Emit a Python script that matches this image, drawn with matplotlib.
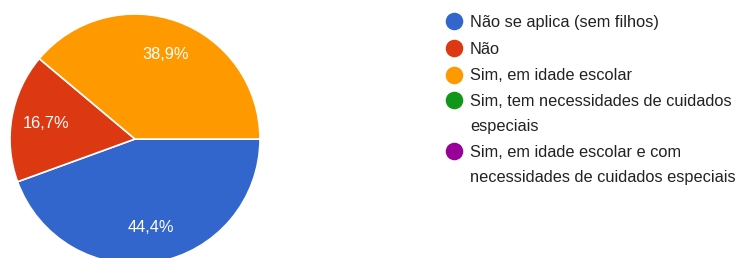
import matplotlib
matplotlib.use("Agg")
import matplotlib.pyplot as plt

categories = ["Não se aplica (sem filhos)", "Não", "Sim, em idade escolar",
              "Sim, tem necessidades de cuidados\nespeciais",
              "Sim, em idade escolar e com\nnecessidades de cuidados especiais"]
counts = [8, 3, 7, 0, 0]
colors = ["#3366cc", "#dc3912", "#ff9900", "#109618", "#990099"]

plt.rcParams['font.family'] = ['Liberation Sans', 'DejaVu Sans']

W, H = 743, 258
fig = plt.figure(figsize=(W / 100, H / 100), dpi=100)

cx, cy, r = 135, 139, 125
ax = fig.add_axes([(cx - r) / W, (H - cy - r) / H, 2 * r / W, 2 * r / H])
vals = [c for c in counts if c > 0]
cols = [col for c, col in zip(counts, colors) if c > 0]
wedges, texts, autotexts = ax.pie(
    vals, colors=cols, startangle=0, counterclock=False, radius=1,
    autopct=lambda p: f"{p:.1f}%".replace(".", ","), pctdistance=0.72,
    wedgeprops=dict(edgecolor="white", linewidth=1.2),
    textprops=dict(color="white", fontsize=11.8))
ax.set_xlim(-1, 1)
ax.set_ylim(-1, 1)
ax.set_aspect("equal")
ax.axis("off")

# legend
lax = fig.add_axes([0, 0, 1, 1])
lax.set_xlim(0, W)
lax.set_ylim(H, 0)
lax.axis("off")
ys = [21, 48, 74.5, 100, 151]
for cat, col, y in zip(categories, colors, ys):
    lax.scatter([454], [y], s=160, color=col, linewidths=0)
    for i, line in enumerate(cat.split("\n")):
        lax.text(470, y + i * 25, line, fontsize=11.8, color="#222222",
                 va="center_baseline", ha="left")

fig.savefig("out.png", dpi=100)
